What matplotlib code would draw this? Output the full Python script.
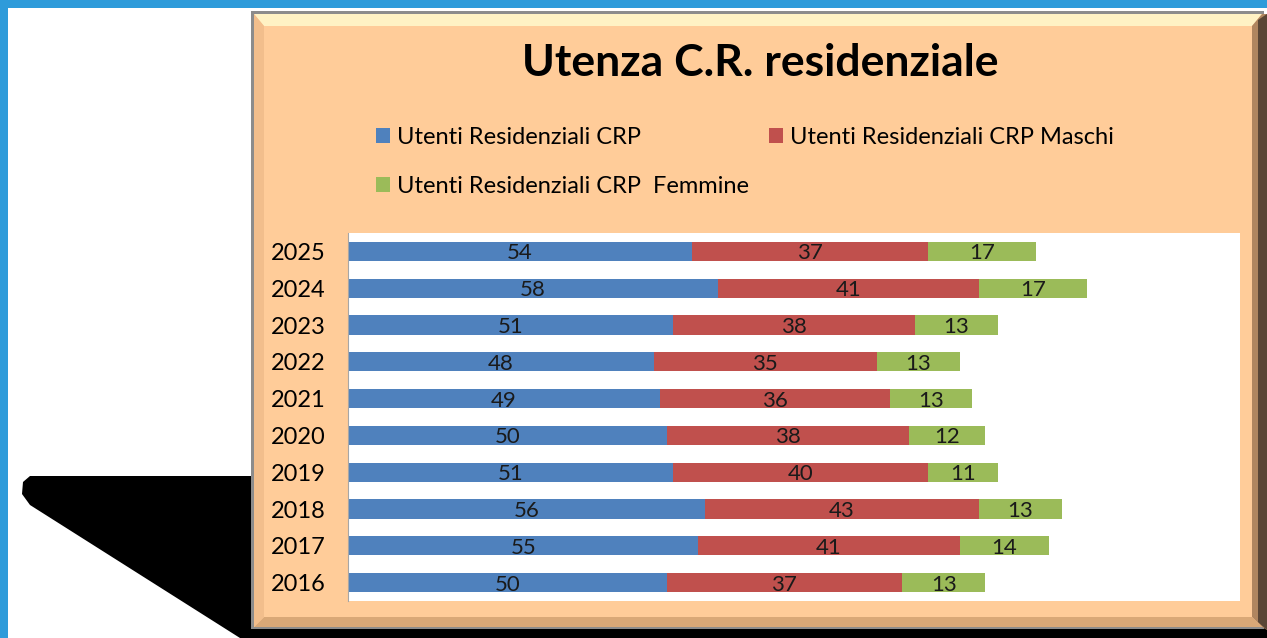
import matplotlib.pyplot as plt
from matplotlib.patches import Polygon

# data
years = ["2016", "2017", "2018", "2019", "2020", "2021", "2022", "2023", "2024", "2025"]
totale = [50, 55, 56, 51, 50, 49, 48, 51, 58, 54]
maschi = [37, 41, 43, 40, 38, 36, 35, 38, 41, 37]
femmine = [13, 14, 13, 11, 12, 13, 13, 13, 17, 17]

labels = ["Utenti Residenziali CRP", "Utenti Residenziali CRP Maschi",
          "Utenti Residenziali CRP  Femmine"]
colors = ["#4F81BD", "#C0504D", "#9BBB59"]

W, H = 1267, 638
plt.rcParams["font.family"] = ["Lato", "DejaVu Sans"]

fig = plt.figure(figsize=(W / 100, H / 100), dpi=100)
fig.patch.set_facecolor("white")


def fx(x):
    return x / W


def fy(y):
    return 1 - y / H


def poly(pts, **kw):
    fig.patches.append(Polygon([(fx(x), fy(y)) for x, y in pts], closed=True,
                               transform=fig.transFigure, zorder=-1, **kw))


# blue frame
poly([(0, 0), (W, 0), (W, 8), (0, 8)], color="#2E9BDA", lw=0)
poly([(0, 0), (8, 0), (8, H), (0, H)], color="#2E9BDA", lw=0)

# black shadow
poly([(30, 476), (255, 476), (255, 638), (240, 638), (30, 505), (22, 494), (23, 482)],
     color="black", lw=0)
poly([(250, 628), (W, 628), (W, H), (250, H)], color="black", lw=0)

# peach box with bevel
poly([(251, 11), (1264, 11), (1264, 629), (251, 629)], color="#8C8C8C", lw=0)
poly([(254, 14), (1262, 14), (1262, 627), (254, 627)], color="#FFCC99", lw=0)
poly([(254, 14), (1262, 14), (1252, 26), (264, 26)], color="#FFF2C4", lw=0)
poly([(1262, 14), (1267, 14), (1267, 630), (1262, 627), (1252, 617), (1252, 26)],
     color="#B08660", lw=0)
poly([(1258, 20), (1267, 14), (1267, 630), (1258, 622)], color="#5A4636", lw=0)
poly([(254, 627), (1262, 627), (1252, 617), (264, 617)], color="#D9A877", lw=0)
poly([(254, 14), (264, 26), (264, 617), (254, 627)], color="#F2BE8C", lw=0)

# title
fig.text(fx(760), fy(63), "Utenza C.R. residenziale", ha="center", va="center",
         fontsize=32, fontweight="bold", color="black")

# axes
ax = fig.add_axes([fx(348), fy(601), fx(1240) - fx(348), fy(233) - fy(601)])
ax.set_zorder(2)
ax.set_facecolor("white")
ypos = list(range(len(years)))
left = [0] * len(years)
for vals, col, lab in zip([totale, maschi, femmine], colors, labels):
    bars = ax.barh(ypos, vals, left=left, height=0.52, color=col, label=lab)
    txts = ax.bar_label(bars, labels=[str(v) for v in vals], label_type="center",
                        fontsize=16, color="#1A1A1A")
    for t in txts:
        t.set_position((0, -1.5))
    left = [a + b for a, b in zip(left, vals)]

ax.set_xlim(0, 140)
ax.set_ylim(-0.5, len(years) - 0.5)
ax.set_yticks(ypos)
ax.set_yticklabels(years, fontsize=17)
ax.set_xticks([])
ax.tick_params(axis="y", length=0, pad=16)
for s in ["top", "right", "bottom"]:
    ax.spines[s].set_visible(False)
ax.spines["left"].set_color("#A6A6A6")

h, l = ax.get_legend_handles_labels()
fig.legend([h[0], h[2], h[1]], [l[0], l[2], l[1]], ncol=2, frameon=False,
           loc="upper left", bbox_to_anchor=(fx(364), fy(115)), fontsize=17,
           handlelength=0.6, handleheight=0.6, handletextpad=0.3,
           labelspacing=1.2, columnspacing=0.85, borderpad=0)

fig.savefig("out.png", dpi=100)
